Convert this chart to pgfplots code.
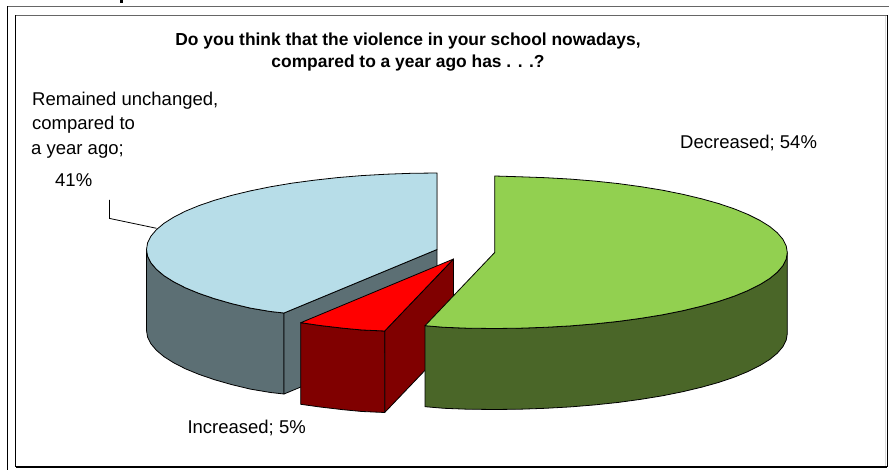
\documentclass[border=0pt]{standalone}
\usepackage{fontspec}
\setmainfont{Liberation Sans}
\usepackage{pgfplots}
\pgfplotsset{compat=1.18}
\definecolor{greentop}{RGB}{146,208,80}
\definecolor{greenside}{RGB}{74,102,40}
\definecolor{bluetop}{RGB}{183,221,232}
\definecolor{blueside}{RGB}{92,111,116}
\definecolor{redtop}{RGB}{255,0,0}
\definecolor{redside}{RGB}{128,0,0}
\pgfplotsset{slice/.style={draw=black, line width=0.8bp, line join=round, fill=#1, mark=none}}
\tikzset{lab/.style={inner sep=0pt, anchor=base west, font=\fontsize{18.57}{22}\selectfont},
  head/.style={inner sep=0pt, anchor=base, font=\fontsize{17.47}{22}\selectfont\bfseries}}
\begin{document}
\begin{tikzpicture}
  \begin{axis}[
    hide axis,
    scale only axis,
    width=889bp, height=470bp,
    xmin=0, xmax=889, ymin=0, ymax=470,
    y dir=reverse
  ]
    % keeps the page as large as the axis
    \addplot[draw=none, mark=none] coordinates {(0,0) (889,470)};
    % frames
    \addplot[mark=none, draw=black!60, line width=1.6bp] coordinates {(7,6.5) (889,6.5)};
    \addplot[mark=none, draw=black, line width=1bp] coordinates {(7,6.5) (7,470)};
    \addplot[mark=none, draw=black!60, line width=1.2bp] coordinates {(15.5,15.5) (886.5,15.5)};
    \addplot[mark=none, draw=black, line width=1bp] coordinates {(15.5,15.5) (15.5,467)};
    \addplot[mark=none, draw=black, line width=1.3bp] coordinates {(15.5,467) (887,467)};
    \addplot[mark=none, draw=black, line width=1bp] coordinates {(887,15.5) (887,467)};
    \addplot[mark=none, draw=black!15, line width=1bp] coordinates {(885.8,16) (885.8,466)};
    % clipped heading above the frame
    \addplot[mark=none, draw=black, line width=3bp] coordinates {(121.7,0) (121.7,3.2)};

    % remained unchanged, 41%
    \addplot[slice=blueside] coordinates {
      (146.5,249.5) (146.5,330.5) (147.6,337.2) (150.9,343.8) (156.4,350.3)
      (164,356.7) (173.7,362.8) (185.4,368.8) (199,374.4) (214.5,379.7)
      (231.6,384.6) (250.3,389.1) (270.4,392.5) (284,394) (284,313)
      (270.4,311.5) (250.3,308.1) (231.6,303.6) (214.5,298.7) (199,293.4)
      (185.4,287.8) (173.7,281.8) (164,275.7) (156.4,269.3) (150.9,262.8)
      (147.6,256.2)
    } -- cycle;
    \addplot[slice=blueside] coordinates {
      (284,313) (437,249.5) (437,330.5) (284,394)
    } -- cycle;
    \addplot[slice=bluetop] coordinates {
      (437,249.5) (437,173) (411.7,173.3) (386.6,174.2) (361.8,175.6)
      (337.6,177.6) (314.2,180.2) (291.7,183.2) (270.4,186.8) (250.3,190.9)
      (231.6,195.4) (214.5,200.3) (199,205.6) (185.4,211.2) (173.7,217.2)
      (164,223.3) (156.4,229.7) (150.9,236.2) (147.6,242.8) (146.5,249.5)
      (147.6,256.2) (150.9,262.8) (156.4,269.3) (164,275.7) (173.7,281.8)
      (185.4,287.8) (199,293.4) (214.5,298.7) (231.6,303.6) (250.3,308.1)
      (270.4,311.5) (284,313)
    } -- cycle;
    % that edge is grey in the original
    \addplot[mark=none, draw=black!45, line width=0.9bp] coordinates {(437,173) (437,249)};

    % increased, 5%
    \addplot[slice=redside] coordinates {
      (384.7,331) (453.5,259) (453.5,340.5) (384.7,412.5)
    } -- cycle;
    \addplot[slice=redside] coordinates {
      (300.7,322.7) (320,325.5) (343,328.2) (362,330) (384.7,331)
      (384.7,412.5) (362,411.5) (343,409.7) (320,407) (300.7,404.3)
    } -- cycle;
    \addplot[slice=redtop] coordinates {
      (453.5,259) (300.7,322.7) (320,325.5) (343,328.2) (362,330) (384.7,331)
    } -- cycle;

    % decreased, 54%
    \addplot[slice=greenside] coordinates {
      (787.3,252.5) (787.3,333.5) (786.2,340.1) (782.9,346.7) (777.3,353.2)
      (769.7,359.5) (759.9,365.6) (748.1,371.5) (734.4,377.1) (718.8,382.4)
      (701.6,387.2) (682.8,391.7) (662.5,395.8) (641,399.3) (618.4,402.4)
      (594.8,404.9) (570.4,406.9) (545.5,408.3) (520.2,409.2) (494.7,409.5)
      (467,409.2) (443.9,408.3) (425,406.7) (425,325.7)
      (443.9,327.3) (467,328.2) (494.7,328.5) (520.2,328.2) (545.5,327.3)
      (570.4,325.9) (594.8,323.9) (618.4,321.4) (641,318.3) (662.5,314.8)
      (682.8,310.7) (701.6,306.2) (718.8,301.4) (734.4,296.1) (748.1,290.5)
      (759.9,284.6) (769.7,278.5) (777.3,272.2) (782.9,265.7) (786.2,259.1)
    } -- cycle;
    \addplot[slice=greentop] coordinates {
      (494.7,252.5) (494.7,176) (520.2,176.8) (545.5,177.7) (570.4,179.1)
      (594.8,181.1) (618.4,183.6) (641,186.7) (662.5,190.2) (682.8,194.3)
      (701.6,198.8) (718.8,203.6) (734.4,208.9) (748.1,214.5) (759.9,220.4)
      (769.7,226.5) (777.3,232.8) (782.9,239.3) (786.2,245.9) (787.3,252.5)
      (786.2,259.1) (782.9,265.7) (777.3,272.2) (769.7,278.5) (759.9,284.6)
      (748.1,290.5) (734.4,296.1) (718.8,301.4) (701.6,306.2) (682.8,310.7)
      (662.5,314.8) (641,318.3) (618.4,321.4) (594.8,323.9) (570.4,325.9)
      (545.5,327.3) (520.2,328.2) (494.7,328.5) (467,328.2) (443.9,327.3)
      (425,325.7)
    } -- cycle;

    % leader line
    \addplot[mark=none, draw=black, line width=0.8bp] coordinates {(109.4,200) (109.4,218.4) (156.5,228.3)};

    % title and labels
    \node[head] at (axis cs:408,46) {Do you think that the violence in your school nowadays,};
    \node[head] at (axis cs:408,68) {compared to a year ago has . . .?};
    \node[lab] at (axis cs:32,105.6) {Remained unchanged,};
    \node[lab] at (axis cs:32,130) {compared to};
    \node[lab] at (axis cs:31,155) {a year ago;};
    \node[lab] at (axis cs:55,187) {41\%};
    \node[lab] at (axis cs:680,148.3) {Decreased; 54\%};
    \node[lab] at (axis cs:187.3,433.5) {Increased; 5\%};
  \end{axis}
\end{tikzpicture}
\end{document}
